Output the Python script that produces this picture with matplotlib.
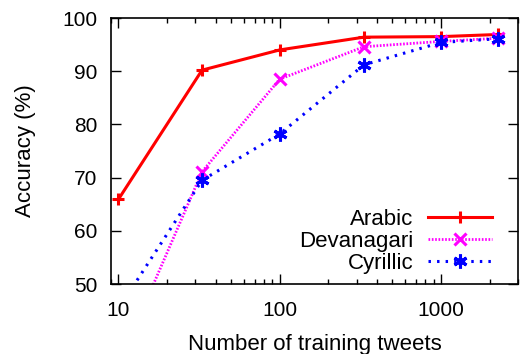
import matplotlib
matplotlib.use("Agg")
import matplotlib.pyplot as plt
from matplotlib.ticker import LogLocator, NullFormatter, FixedLocator, FixedFormatter

plt.rcParams['font.family'] = ['Liberation Sans', 'DejaVu Sans']

tweets = [10, 33, 100, 333, 1000, 2250]
arabic = [65.9, 90.2, 94.0, 96.4, 96.5, 96.9]
devanagari = [34.7, 71.1, 88.5, 94.6, 95.6, 96.2]
cyrillic = [45.3, 69.5, 78.2, 91.2, 95.4, 96.1]

xticks = [10, 100, 1000]
xticklabels = ["10", "100", "1000"]
yticks = [50, 60, 70, 80, 90, 100]

fig = plt.figure(figsize=(5.2, 3.54), dpi=100)
ax = fig.add_axes([111/520, 1-284/354, (518-111)/520, (284-18)/354])

ax.plot(tweets, arabic, color='#ff0000', lw=2.2, marker='+', ms=9, mew=2.2,
        label='Arabic')
ax.plot(tweets, devanagari, color='#ff00ff', lw=2.0, ls=(0, (0.6, 0.6)),
        marker='x', ms=8, mew=2.2, label='Devanagari')
ax.plot(tweets, cyrillic, color='#0000ff', lw=2.2, ls=(0, (0.8, 2.0)),
        marker=(6, 2, 0), ms=10, mew=2.2, label='Cyrillic')

ax.set_xscale('log')
ax.set_xlim(9, 3000)
ax.set_ylim(50, 100)
ax.xaxis.set_major_locator(FixedLocator(xticks))
ax.xaxis.set_major_formatter(FixedFormatter(xticklabels))
ax.xaxis.set_minor_locator(LogLocator(base=10, subs=range(2, 10)))
ax.xaxis.set_minor_formatter(NullFormatter())
ax.set_yticks(yticks)

ax.tick_params(which='both', direction='in', top=True, right=True,
               labelsize=15, width=1.0, color='black')
ax.tick_params(which='major', length=7)
ax.tick_params(which='minor', length=3.5)
ax.tick_params(axis='x', pad=12)
ax.tick_params(axis='y', pad=10)
for s in ax.spines.values():
    s.set_linewidth(1.2)

ax.set_xlabel('Number of training tweets', fontsize=16, labelpad=10)
ax.set_ylabel('Accuracy (%)', fontsize=16, labelpad=19)

leg = ax.legend(loc='lower right', bbox_to_anchor=(0.936, 0.037), frameon=False,
                markerfirst=False, fontsize=16, handlelength=2.9,
                handletextpad=0.63, labelspacing=0.05, borderpad=0, borderaxespad=0)
for col in leg._legend_handle_box.get_children():
    col.align = 'right'

fig.savefig('out.png', dpi=100)
